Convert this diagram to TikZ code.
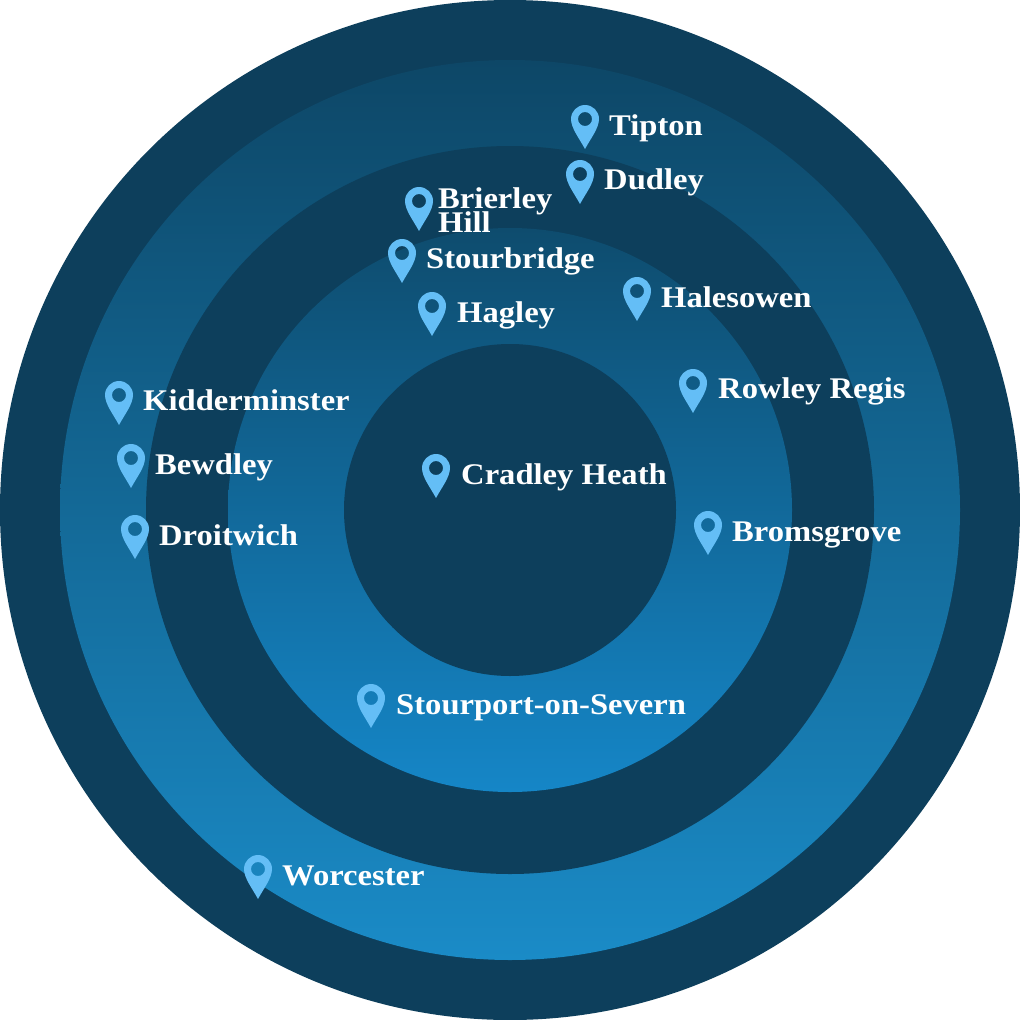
\documentclass[tikz,border=0pt]{standalone}
\usepackage{fontspec}
\setmainfont{Liberation Serif}[FakeStretch=1.087]
\definecolor{ringdark}{RGB}{13, 63, 92}
\definecolor{ringtop}{RGB}{13, 71, 103}
\definecolor{ringlow}{RGB}{26, 139, 199}
\definecolor{innertop}{RGB}{14, 76, 110}
\definecolor{innerlow}{RGB}{21, 134, 199}
\definecolor{pinblue}{RGB}{100, 190, 246}
\tikzset{
  cityname/.style={anchor=base west, inner sep=0pt, text=white, font=\fontsize{30}{25}\selectfont\bfseries, align=left},
  mappin/.pic={
    \fill[pinblue, even odd rule] (0,0) .. controls (-6,11) and (-14,21) .. (-14,30) arc (180:0:14) .. controls (14,21) and (6,11) .. (0,0) -- cycle (0,30) circle (7);
  }
}
\begin{document}
\begin{tikzpicture}[x=1pt, y=1pt]
  \useasboundingbox (0,0) rectangle (1020,-1020);

  % Rings
  \fill[ringdark] (510,-510) circle (510);
  \shade[top color=ringtop, bottom color=ringlow] (510,-510) circle (450);
  \fill[ringdark] (510,-510) circle (364);
  \shade[top color=innertop, bottom color=innerlow] (510,-510) circle (282);
  \fill[ringdark] (510,-510) circle (166);

  % Centre
  \pic at (436,-498) {mappin};
  \node[cityname] (cradley) at (461,-484) {Cradley Heath};

  % Top group
  \pic at (585,-149) {mappin};
  \node[cityname] (tipton) at (609,-135) {Tipton};
  \pic at (580,-204) {mappin};
  \node[cityname] (dudley) at (604,-189) {Dudley};
  \pic at (419,-231) {mappin};
  \node[cityname] (brierley) at (438,-232) {Brierley\\[-5pt]Hill};
  \pic at (402,-283) {mappin};
  \node[cityname] (stourbridge) at (426,-268) {Stourbridge};
  \pic at (432,-336) {mappin};
  \node[cityname] (hagley) at (457,-322) {Hagley};
  \pic at (637,-321) {mappin};
  \node[cityname] (halesowen) at (661,-307) {Halesowen};

  % Right group
  \pic at (693,-413) {mappin};
  \node[cityname] (rowley) at (718,-398) {Rowley Regis};
  \pic at (708,-555) {mappin};
  \node[cityname] (bromsgrove) at (732,-541) {Bromsgrove};

  % Left group
  \pic at (119,-425) {mappin};
  \node[cityname] (kidderminster) at (143,-410) {Kidderminster};
  \pic at (131,-488) {mappin};
  \node[cityname] (bewdley) at (155,-474) {Bewdley};
  \pic at (135,-559) {mappin};
  \node[cityname] (droitwich) at (159,-545) {Droitwich};

  % Bottom group
  \pic at (371,-728) {mappin};
  \node[cityname] (stourport) at (396,-714) {Stourport-on-Severn};
  \pic at (258,-899) {mappin};
  \node[cityname] (worcester) at (282,-885) {Worcester};
\end{tikzpicture}
\end{document}
